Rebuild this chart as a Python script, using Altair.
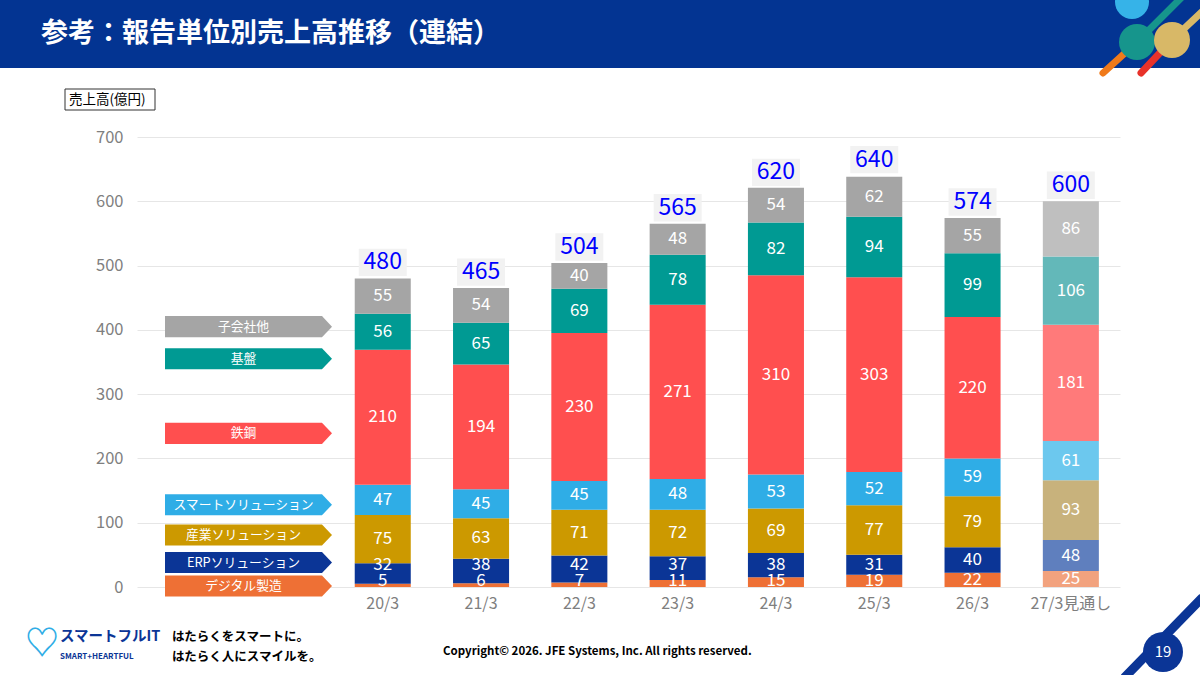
import altair as alt
import pandas as pd

# ---------------- data ----------------
years = ["20/3", "21/3", "22/3", "23/3", "24/3", "25/3", "26/3", "27/3見通し"]
segments = ["デジタル製造", "ERPソリューション", "産業ソリューション",
            "スマートソリューション", "鉄鋼", "基盤", "子会社他"]
digital = [5, 6, 7, 11, 15, 19, 22, 25]
erp = [32, 38, 42, 37, 38, 31, 40, 48]
sangyo = [75, 63, 71, 72, 69, 77, 79, 93]
smart = [47, 45, 45, 48, 53, 52, 59, 61]
tekko = [210, 194, 230, 271, 310, 303, 220, 181]
kiban = [56, 65, 69, 78, 82, 94, 99, 106]
kogaisha = [55, 54, 40, 48, 54, 62, 55, 86]
totals = [480, 465, 504, 565, 620, 640, 574, 600]
forecast = [False, False, False, False, False, False, False, True]

colors_actual = ["#EE7035", "#0B3596", "#CC9900", "#2FADE6", "#FF4F4F", "#009A93", "#A5A5A5"]
colors_forecast = ["#F2A27E", "#5F7FBE", "#C8B27C", "#6CC8EE", "#FF7A7A", "#63B8B9", "#BFBFBF"]
legend_level = [1.5, 38, 81, 128, 239, 355, 405]   # where each legend tag sits (axis units)

series = [digital, erp, sangyo, smart, tekko, kiban, kogaisha]

rows = []
for si, (seg, vals) in enumerate(zip(segments, series)):
    for yi, (yr, v) in enumerate(zip(years, vals)):
        rows.append({"year": yr, "segment": seg, "value": v, "order": si,
                     "key": seg + ("_f" if forecast[yi] else "")})
df = pd.DataFrame(rows)
df_tot = pd.DataFrame({"year": years, "total": totals})
df_leg = pd.DataFrame({"label": segments, "key": segments, "lv": legend_level})

color_scale = alt.Scale(domain=segments + [s + "_f" for s in segments],
                        range=colors_actual + colors_forecast)

FONT = "Noto Sans CJK JP"
x_scale = alt.Scale(domain=["", " "] + years, paddingInner=0.43, paddingOuter=0.215)
y_scale = alt.Scale(domain=[0, 700], nice=False)

x_axis = alt.Axis(title=None, labelAngle=0, ticks=False, domain=False,
                  labelColor="#7F7F7F", labelFontSize=16, labelPadding=8,
                  labelFont=FONT, grid=False)
y_axis = alt.Axis(title=None, values=[0, 100, 200, 300, 400, 500, 600, 700],
                  ticks=False, domain=False, labelColor="#7F7F7F",
                  labelFontSize=16.5, labelPadding=14, labelFont=FONT,
                  grid=True, gridColor="#E6E6E6", gridWidth=1)

def X(field):
    return alt.X(field, scale=x_scale, sort=None, axis=x_axis)

def Y(field, **kw):
    return alt.Y(field, scale=y_scale, axis=y_axis, **kw)

bars = alt.Chart(df).mark_bar().encode(
    x=X("year:N"),
    y=Y("value:Q", stack="zero"),
    color=alt.Color("key:N", scale=color_scale, legend=None),
    order=alt.Order("order:Q"),
)

seg_labels = alt.Chart(df).transform_stack(
    stack="value", as_=["v0", "v1"], groupby=["year"],
    sort=[alt.SortField("order", order="ascending")]
).transform_calculate(
    mid="datum.order == 0 ? max((datum.v0 + datum.v1) / 2, 9) : "
        "(datum.order == 1 ? max((datum.v0 + datum.v1) / 2, 35) : (datum.v0 + datum.v1) / 2)"
).mark_text(
    color="white", fontSize=17, font=FONT, baseline="middle"
).encode(
    x=X("year:N"),
    y=Y("mid:Q"),
    text="value:Q",
)

box_path = "M-1,-0.57L1,-0.57L1,0.57L-1,0.57Z"
tot_box = alt.Chart(df_tot).mark_point(
    shape=box_path, size=2304, filled=True, color="#F2F2F2", opacity=1,
    strokeWidth=0, yOffset=-16
).encode(x=X("year:N"), y=Y("total:Q"))
tot_text = alt.Chart(df_tot).mark_text(
    color="#0000FF", fontSize=23, font=FONT, baseline="middle", yOffset=-16
).encode(x=X("year:N"), y=Y("total:Q"), text="total:Q")

arrow_path = "M-1,-0.126L0.88,-0.126L1,0L0.88,0.126L-1,0.126Z"
leg_shape = alt.Chart(df_leg).mark_point(
    shape=arrow_path, size=27889, filled=True, opacity=1, strokeWidth=0
).encode(
    x=alt.value(111.5),
    y=Y("lv:Q"),
    color=alt.Color("key:N", scale=color_scale, legend=None),
)
leg_text = alt.Chart(df_leg).mark_text(
    color="white", fontSize=12.8, font=FONT, baseline="middle"
).encode(x=alt.value(106.5), y=Y("lv:Q"), text="label:N")

# ---------------- page decoration ----------------
one = pd.DataFrame({"a": [0]})
def base():
    return alt.Chart(one)

title_bar = base().mark_rect(color="#033492").encode(
    x=alt.value(-137), x2=alt.value(1063), y=alt.value(-137), y2=alt.value(-69))
title_txt = base().mark_text(
    text="参考：報告単位別売上高推移（連結）", color="white", fontSize=27,
    font=FONT, fontWeight="bold", align="left", baseline="middle"
).encode(x=alt.value(-96), y=alt.value(-103))

def rule(x1, y1, x2, y2, color, w=7):
    return base().mark_rule(color=color, strokeWidth=w, strokeCap="round").encode(
        x=alt.value(x1), y=alt.value(y1), x2=alt.value(x2), y2=alt.value(y2))

def dot(x, y, color, d):
    return base().mark_point(shape="circle", filled=True, opacity=1, color=color,
                             size=d * d, strokeWidth=0).encode(x=alt.value(x), y=alt.value(y))

deco = [
    rule(1000, -95, 1050, -145, "#16958C"),
    rule(1000, -95, 966, -64, "#F07A1A"),
    rule(1035, -97, 1070, -130, "#D8B867"),
    rule(1035, -97, 1004, -64, "#E8322A"),
    dot(995, -135, "#36B3E8", 34),
    dot(1000, -95, "#16958C", 36),
    dot(1035, -97, "#D8B867", 36),
]

ybox = base().mark_rect(fill="white", stroke="#333333", strokeWidth=1).encode(
    x=alt.value(-72), x2=alt.value(18), y=alt.value(-48), y2=alt.value(-27))
ybox_txt = base().mark_text(text="売上高(億円)", fontSize=13.5, font=FONT,
                            color="black", align="left", baseline="middle").encode(
    x=alt.value(-68), y=alt.value(-37.5))

def txt(s, x, y, size, color="black", weight="normal", align="left"):
    return base().mark_text(text=s, fontSize=size, font=FONT, color=color,
                            fontWeight=weight, align=align, baseline="middle").encode(
        x=alt.value(x), y=alt.value(y))

footer = [
    txt("♡", -95, 508, 34, "#2FADE6", "bold", "center"),
    txt("スマートフルIT", -77, 500, 14.5, "#0B3596", "bold"),
    txt("SMART+HEARTFUL", -77, 520, 8, "#0B3596", "bold"),
    txt("はたらくをスマートに。", 35, 500, 12.5, "black", "bold"),
    txt("はたらく人にスマイルを。", 35, 520, 12.5, "black", "bold"),
    txt("Copyright© 2026. JFE Systems, Inc. All rights reserved.", 306, 515, 11.5, "black", "bold"),
    rule(988, 540, 1065, 461, "#0B3596", 9),
    dot(1026, 515, "#0B3596", 40),
    txt("19", 1026, 515, 15, "white", "normal", "center"),
]

chart = alt.layer(
    title_bar, *deco, title_txt, ybox, ybox_txt, *footer,
    bars, seg_labels, tot_box, tot_text, leg_shape, leg_text,
).properties(
    width=983, height=450,
    autosize=alt.AutoSizeParams(type="none"),
    padding={"left": 137, "top": 137, "right": 80, "bottom": 88},
    background="white",
).configure(font=FONT).configure_view(stroke=None)

chart.save("out.html", embed_options={"renderer": "svg", "actions": False})
